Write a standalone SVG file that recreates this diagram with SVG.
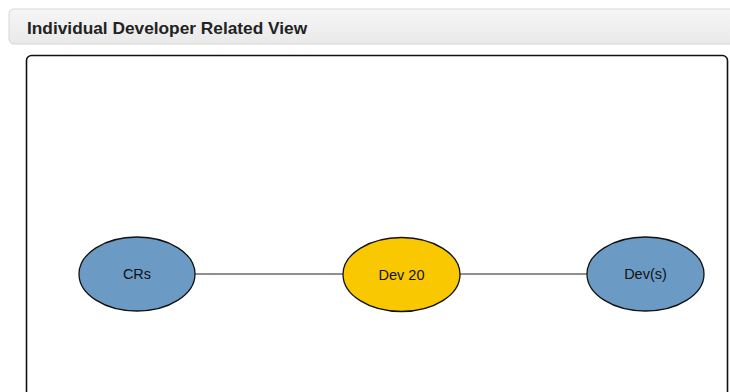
<svg xmlns="http://www.w3.org/2000/svg" width="730" height="392" viewBox="0 0 730 392">
  <defs>
    <linearGradient id="hdrGrad" x1="0" y1="0" x2="0" y2="1">
      <stop offset="0" stop-color="#f6f6f6"/>
      <stop offset="1" stop-color="#e9e9e9"/>
    </linearGradient>
  </defs>
  <style>
    .title { font-family: "Liberation Sans", Arial, sans-serif; font-size: 17.3px; font-weight: bold; fill: #222; }
    .node ellipse { stroke: #111; stroke-width: 1.3; }
    .node text { font-family: "Liberation Sans", Arial, sans-serif; font-size: 14.5px; fill: #111; text-anchor: middle; }
    .blue { fill: #6b9bc4; }
    .gold { fill: #f9c800; }
    .edge { stroke: #222; stroke-width: 1.2; fill: none; }
  </style>
  <rect width="730" height="392" fill="#ffffff"/>

  <!-- header bar -->
  <rect x="9" y="9" width="740" height="35" rx="5" fill="url(#hdrGrad)" stroke="#d6d6d6" stroke-width="1"/>
  <text class="title" x="27" y="34">Individual Developer Related View</text>

  <!-- graph panel -->
  <rect x="26.5" y="55.5" width="701" height="360" rx="5" fill="#ffffff" stroke="#111" stroke-width="1.6"/>

  <g id="connectors">
    <line class="edge" x1="195" y1="274" x2="343" y2="274"/>
    <line class="edge" x1="460" y1="274" x2="587" y2="274"/>
  </g>

  <g id="node-crs" class="node">
    <ellipse class="blue" cx="137" cy="274" rx="58" ry="37"/>
    <text x="137" y="279">CRs</text>
  </g>
  <g id="node-dev20" class="node">
    <ellipse class="gold" cx="401.5" cy="274.5" rx="58.5" ry="37"/>
    <text x="401.5" y="279.5">Dev 20</text>
  </g>
  <g id="node-devs" class="node">
    <ellipse class="blue" cx="645.5" cy="274" rx="58.5" ry="37"/>
    <text x="645.5" y="279">Dev(s)</text>
  </g>
</svg>
